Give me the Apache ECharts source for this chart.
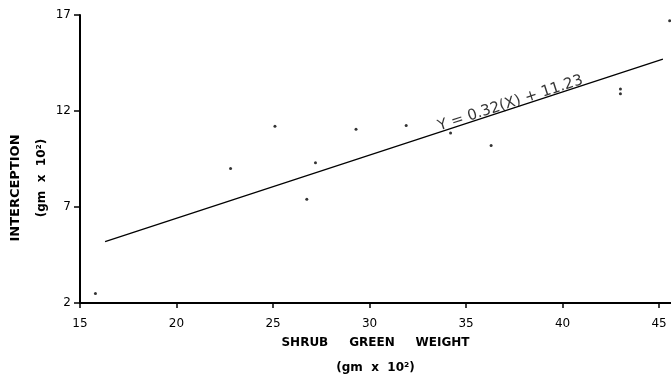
<!DOCTYPE html>
<html><head><meta charset="utf-8">
<script src="https://cdn.jsdelivr.net/npm/echarts@6/dist/echarts.min.js"></script>
<style>html,body{margin:0;padding:0;background:#fff}#c{width:671px;height:377px}</style>
</head><body><div id="c"></div>
<script>
// Observed data (shrub green weight vs interception, both gm x 10^2)
const shrubWeight  = [15.8, 22.8, 25.1, 26.75, 27.2, 29.3, 31.9, 34.2, 36.3, 43.0, 43.0, 45.55];
const interception = [2.5, 9.0, 11.2, 7.4, 9.3, 11.05, 11.25, 10.85, 10.2, 13.15, 12.9, 16.7];
// Regression line endpoints
const fitX = [16.3, 45.2];
const fitY = [5.2, 14.7];
// Tick labels
const xTicks = [15, 20, 25, 30, 35, 40, 45];
const yTicks = [2, 7, 12, 17];
const equation = 'Y = 0.32(X) + 11.23';
const equationAt = [37.3, 12.4];

const font = 'DejaVu Sans';
const chart = echarts.init(document.getElementById('c'), null, {renderer: 'canvas'});
chart.setOption({
  animation: false,
  backgroundColor: '#fff',
  grid: {left: 80, right: 0, top: 15, bottom: 74, containLabel: false, outerBoundsMode: 'none'},
  xAxis: {
    type: 'value', min: 15, max: 45.62, interval: 5,
    name: 'SHRUB     GREEN     WEIGHT\n(gm  x  10²)', nameLocation: 'middle', nameGap: 27,
    nameMoveOverlap: false,
    nameTextStyle: {fontFamily: font, fontSize: 12, fontWeight: 'bold', color: '#000', lineHeight: 25},
    axisLine: {show: true, lineStyle: {color: '#000', width: 2}},
    axisTick: {show: true, length: 5, lineStyle: {color: '#000', width: 1.5}, customValues: xTicks},
    axisLabel: {fontFamily: font, fontSize: 12, color: '#000', margin: 15, customValues: xTicks},
    splitLine: {show: false}
  },
  yAxis: {
    type: 'value', min: 2, max: 17, interval: 5,
    axisLine: {show: true, lineStyle: {color: '#000', width: 2}},
    axisTick: {show: true, length: 6, lineStyle: {color: '#000', width: 1.5}, customValues: yTicks},
    axisLabel: {fontFamily: font, fontSize: 12, color: '#000', margin: 9, customValues: yTicks},
    splitLine: {show: false}
  },
  graphic: [
    {type: 'text', x: 16, y: 188, rotation: Math.PI / 2,
     style: {text: 'INTERCEPTION', fontFamily: font, fontSize: 13, fontWeight: 'bold', fill: '#000', textAlign: 'center', textVerticalAlign: 'middle'}},
    {type: 'text', x: 42, y: 178, rotation: Math.PI / 2,
     style: {text: '(gm  x  10²)', fontFamily: font, fontSize: 12, fontWeight: 'bold', fill: '#000', textAlign: 'center', textVerticalAlign: 'middle'}}
  ],
  series: [
    {type: 'scatter', data: shrubWeight.map((x, i) => [x, interception[i]]),
     symbol: 'circle', symbolSize: 3, itemStyle: {color: '#000'}, z: 3},
    {type: 'line', data: fitX.map((x, i) => [x, fitY[i]]), showSymbol: false, symbol: 'none',
     lineStyle: {color: '#000', width: 1.2}, silent: true},
    {type: 'scatter', data: [equationAt], symbolSize: 0, silent: true,
     label: {show: true, position: 'inside', rotate: 18, formatter: equation,
             fontFamily: font, fontSize: 15, color: '#000'}}
  ]
});
</script></body></html>
